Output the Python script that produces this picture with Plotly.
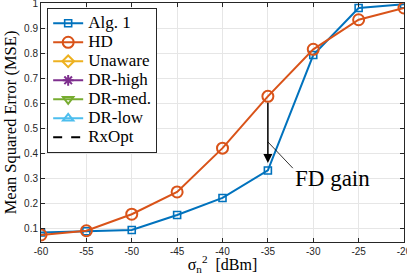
import plotly.graph_objects as go

noise_dbm = [-60, -55, -50, -45, -40, -35, -30, -25, -20]
alg1 = [0.083, 0.088, 0.093, 0.153, 0.221, 0.331, 0.792, 0.980, 0.995]
hd = [0.073, 0.090, 0.156, 0.245, 0.420, 0.627, 0.815, 0.933, 0.980]
x_ticks = [-60, -55, -50, -45, -40, -35, -30, -25, -20]
y_ticks = [0.1, 0.2, 0.3, 0.4, 0.5, 0.6, 0.7, 0.8, 0.9, 1.0]
y_tick_labels = ["0.1", "0.2", "0.3", "0.4", "0.5", "0.6", "0.7", "0.8", "0.9", "1"]

BLUE = "#0072BD"
ORANGE = "#D95319"
YELLOW = "#EDB120"
PURPLE = "#7E2F8E"
GREEN = "#77AC30"
LBLUE = "#4DBEEE"
SERIF = "Liberation Serif"


def lg(name):
    return f"<span style='font-size:17px'>{name}</span>"


fig = go.Figure()
fig.add_trace(go.Scatter(x=noise_dbm, y=alg1, name=lg("Alg. 1"), mode="lines+markers",
                         line=dict(color=BLUE, width=2),
                         marker=dict(symbol="square-open", size=7, color=BLUE, line=dict(width=1.6))))
fig.add_trace(go.Scatter(x=noise_dbm, y=hd, name=lg("HD"), mode="lines+markers",
                         line=dict(color=ORANGE, width=2),
                         marker=dict(symbol="circle-open", size=11, color=ORANGE, line=dict(width=2))))
# legend-only series (not visible in the plotted range)
extra = [("Unaware", YELLOW, "diamond-open"),
         ("DR-high", PURPLE, "asterisk-open"),
         ("DR-med.", GREEN, "triangle-down-open"),
         ("DR-low", LBLUE, "triangle-up-open")]
for name, col, sym in extra:
    fig.add_trace(go.Scatter(x=[None], y=[None], name=lg(name), mode="lines+markers",
                             line=dict(color=col, width=2),
                             marker=dict(symbol=sym, size=9, color=col, line=dict(width=2, color=col))))
fig.add_trace(go.Scatter(x=[None], y=[None], name=lg("RxOpt"), mode="lines",
                         line=dict(color="black", width=2, dash="dash")))

i35 = noise_dbm.index(-35)
# FD gain arrow
fig.add_annotation(x=noise_dbm[i35], y=alg1[i35] + 0.03, ax=noise_dbm[i35], ay=hd[i35] - 0.02,
                   xref="x", yref="y", axref="x", ayref="y", text="", showarrow=True,
                   arrowhead=2, arrowsize=1.2, arrowwidth=1.5, arrowcolor="black")
# leader line
fig.add_shape(type="line", xref="x", yref="y", x0=noise_dbm[i35], y0=0.445,
              x1=noise_dbm[i35] + 2.75, y1=0.34, line=dict(color="black", width=0.8))
fig.add_annotation(x=noise_dbm[i35] + 2.8, y=0.30, xref="x", yref="y", text="FD gain",
                   showarrow=False, xanchor="left", yanchor="middle",
                   font=dict(family=SERIF, size=23, color="black"))

axis_common = dict(showline=True, linecolor="#262626", linewidth=1, mirror="ticks",
                   ticks="inside", ticklen=4, tickcolor="#262626",
                   showgrid=True, gridcolor="#e6e6e6", gridwidth=1, zeroline=False,
                   ticklabeloverflow="allow",
                   tickfont=dict(family="Liberation Sans", size=10, color="#262626"))

fig.update_layout(
    width=407, height=275,
    margin=dict(l=41, r=3, t=3, b=33),
    paper_bgcolor="white", plot_bgcolor="white",
    showlegend=True,
    legend=dict(x=0.017, y=0.98, xanchor="left", yanchor="top",
                bgcolor="white", bordercolor="#262626", borderwidth=1,
                font=dict(family=SERIF, size=11, color="black"),
                tracegroupgap=0, itemwidth=30),
    xaxis=dict(range=[-60, -20], tickvals=x_ticks, ticktext=[str(v) for v in x_ticks],
               title=dict(text="σ<sub>n</sub><sup>2</sup>  [dBm]", standoff=1,
                          font=dict(family=SERIF, size=16, color="black")),
               automargin=False, **axis_common),
    yaxis=dict(range=[0.045, 1.0], tickvals=y_ticks, ticktext=y_tick_labels,
               title=dict(text="Mean Squared Error (MSE)", standoff=3,
                          font=dict(family=SERIF, size=16.5, color="black")),
               automargin=False, **axis_common),
)

fig.write_html("out.html", config={"displayModeBar": False},
               post_script="document.body.style.margin='0';document.body.style.padding='0';")
